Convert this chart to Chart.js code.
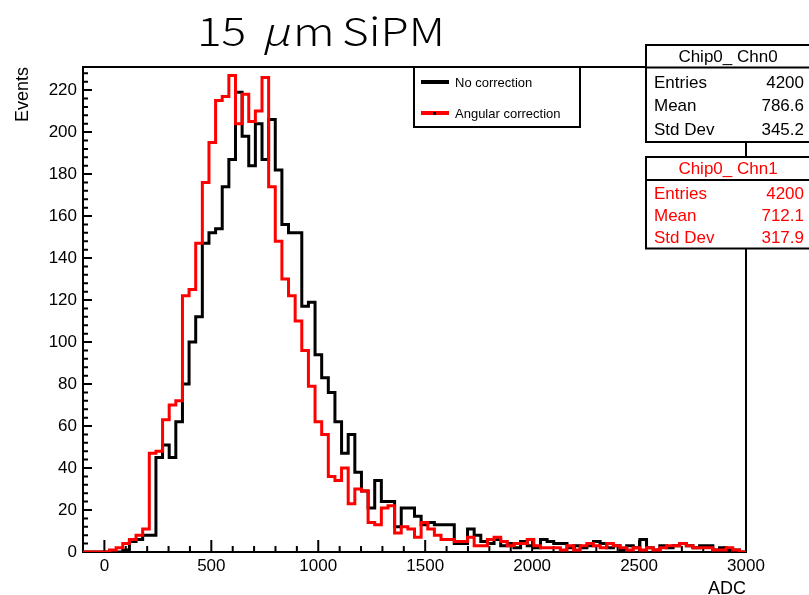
<!DOCTYPE html>
<html>
<head>
<meta charset="utf-8">
<title>15 μm SiPM</title>
<script src="https://cdn.jsdelivr.net/npm/chart.js@4.4.0/dist/chart.umd.min.js"></script>
<style>
  html, body { margin: 0; padding: 0; background: #ffffff; }
  #wrap { width: 809px; height: 595px; }
</style>
</head>
<body>
<div id="wrap"><canvas id="adcChart" width="809" height="595"></canvas></div>
<script>
// Histogram binning: 100 bins of 31 ADC from -100 to 3000
const X_MIN = -100;
const X_MAX = 3000;
const BIN_WIDTH = 31;
const Y_MAX = 231;

const xTickValues = [0, 500, 1000, 1500, 2000, 2500, 3000];
const yTickValues = [0, 20, 40, 60, 80, 100, 120, 140, 160, 180, 200, 220];

// Events per bin
const noCorrection = [
    0, 0, 0, 0, 0, 0, 1, 5, 6, 8,
    8, 45, 51, 45, 62, 80, 100, 112, 147, 152,
    154, 174, 187, 219, 198, 184, 204, 187, 206, 182,
    156, 152, 152, 117, 119, 94, 83, 76, 62, 47,
    56, 38, 29, 21, 34, 24, 24, 12, 21, 21,
    17, 13, 14, 13, 13, 13, 4, 4, 11, 8,
    5, 4, 6, 3, 4, 2, 5, 3, 2, 6,
    5, 4, 4, 2, 3, 2, 3, 5, 4, 2,
    3, 1, 3, 2, 6, 2, 1, 3, 2, 3,
    4, 3, 2, 3, 3, 1, 2, 1, 1, 0
];
const angularCorrection = [
    0, 0, 0, 0, 1, 2, 4, 6, 8, 11,
    47, 48, 63, 70, 72, 122, 125, 147, 176, 195,
    215, 217, 227, 204, 218, 205, 210, 226, 174, 148,
    130, 122, 110, 96, 79, 62, 56, 36, 34, 40,
    23, 30, 29, 14, 13, 21, 22, 9, 12, 11,
    7, 14, 11, 8, 6, 6, 5, 5, 7, 3,
    3, 6, 7, 5, 3, 4, 4, 6, 3, 2,
    2, 2, 1, 3, 1, 3, 4, 3, 2, 4,
    3, 2, 1, 2, 1, 2, 1, 2, 3, 3,
    4, 3, 2, 2, 2, 1, 1, 2, 1, 0
];

const legendLabels = ['No correction', 'Angular correction'];
const statNames = ['Entries', 'Mean', 'Std Dev'];
const statsChn0 = ['4200', '786.6', '345.2'];
const statsChn1 = ['4200', '712.1', '317.9'];

const FONT = '"Liberation Sans", Arial, Helvetica, sans-serif';

// bin left edges + closing point -> step line
function toSteps(counts) {
    const pts = counts.map((c, i) => ({ x: X_MIN + i * BIN_WIDTH, y: c }));
    pts.push({ x: X_MIN + counts.length * BIN_WIDTH, y: counts[counts.length - 1] });
    return pts;
}

const rootDecor = {
    id: 'rootDecor',
    beforeDatasetsDraw(chart) {
        const { ctx, chartArea: a, scales } = chart;
        ctx.save();
        ctx.strokeStyle = '#000';
        ctx.lineWidth = 2;
        ctx.strokeRect(a.left, a.top, a.right - a.left, a.bottom - a.top);

        // inward ticks, ROOT style
        ctx.beginPath();
        for (let v = X_MIN; v <= X_MAX; v += 100) {
            const px = scales.x.getPixelForValue(v);
            const len = v % 500 === 0 ? 12 : 6;
            ctx.moveTo(px, a.bottom);
            ctx.lineTo(px, a.bottom - len);
        }
        for (let v = 0; v <= Y_MAX; v += 4) {
            const py = scales.y.getPixelForValue(v);
            const len = v % 20 === 0 ? 9 : 5;
            ctx.moveTo(a.left, py);
            ctx.lineTo(a.left + len, py);
        }
        ctx.stroke();
        ctx.restore();
    },
    afterDraw(chart) {
        const { ctx, chartArea: a } = chart;
        ctx.save();

        // title, pieces placed like the ROOT latex output (wide gothic face)
        ctx.fillStyle = '#000';
        ctx.textBaseline = 'alphabetic';
        ctx.textAlign = 'left';
        const tFont = '300 39px "Noto Sans CJK JP", "Noto Sans", sans-serif';
        const tItal = 'italic 300 39px "Noto Sans", "Liberation Sans", sans-serif';
        const parts = [['15', tFont, 197], ['\u03bc', tItal, 265], ['m', tFont, 293], ['SiPM', tFont, 342]];
        parts.forEach(p => {
            ctx.save();
            ctx.font = p[1];
            ctx.translate(p[2], 46);
            ctx.scale(1.18, 1);
            ctx.fillText(p[0], 0, 0);
            ctx.restore();
        });

        // axis titles
        ctx.font = '18px ' + FONT;
        ctx.textAlign = 'right';
        ctx.fillText('ADC', a.right, 594);
        ctx.save();
        ctx.translate(28, a.top);
        ctx.rotate(-Math.PI / 2);
        ctx.textAlign = 'right';
        ctx.fillText('Events', 0, 0);
        ctx.restore();

        // legend box
        ctx.fillStyle = '#fff';
        ctx.fillRect(414, 67, 166, 60);
        ctx.strokeStyle = '#000';
        ctx.lineWidth = 2;
        ctx.strokeRect(414, 67, 166, 60);
        const legColors = ['#000000', '#ff0000'];
        const legY = [82, 113];
        legendLabels.forEach((lab, i) => {
            ctx.strokeStyle = legColors[i];
            ctx.lineWidth = 4;
            ctx.beginPath();
            ctx.moveTo(421, legY[i]);
            ctx.lineTo(449, legY[i]);
            ctx.stroke();
            ctx.fillStyle = '#000';
            ctx.font = '13px ' + FONT;
            ctx.textAlign = 'left';
            ctx.textBaseline = 'middle';
            ctx.fillText(lab, 455, legY[i] + 1);
        });
        ctx.fillStyle = '#000';
        ctx.fillRect(433, legY[1] - 1, 3, 3);

        // stats boxes
        const boxes = [
            { title: 'Chip0_ Chn0', vals: statsChn0, color: '#000000', top: 45, sep: 67.5, bottom: 142, rows: [83, 106, 130], head: 57 },
            { title: 'Chip0_ Chn1', vals: statsChn1, color: '#ff0000', top: 157, sep: 180, bottom: 248.5, rows: [194, 216, 238], head: 169 }
        ];
        boxes.forEach(b => {
            ctx.fillStyle = '#fff';
            ctx.fillRect(646, b.top, 170, b.bottom - b.top);
            ctx.strokeStyle = '#000';
            ctx.lineWidth = 2;
            ctx.strokeRect(646, b.top, 170, b.bottom - b.top);
            ctx.beginPath();
            ctx.moveTo(646, b.sep);
            ctx.lineTo(816, b.sep);
            ctx.stroke();
            ctx.fillStyle = b.color;
            ctx.font = '17px ' + FONT;
            ctx.textBaseline = 'middle';
            ctx.textAlign = 'center';
            ctx.fillText(b.title, 728, b.head);
            statNames.forEach((n, i) => {
                ctx.textAlign = 'left';
                ctx.fillText(n, 654, b.rows[i]);
                ctx.textAlign = 'right';
                ctx.fillText(b.vals[i], 804, b.rows[i]);
            });
        });
        ctx.restore();
    }
};

const ctx = document.getElementById('adcChart');
new Chart(ctx, {
    type: 'line',
    data: {
        datasets: [
            {
                label: legendLabels[0],
                data: toSteps(noCorrection),
                borderColor: '#000000',
                borderWidth: 3,
                stepped: 'before',
                pointRadius: 0,
                fill: false,
                order: 1
            },
            {
                label: legendLabels[1],
                data: toSteps(angularCorrection),
                borderColor: '#ff0000',
                borderWidth: 3,
                stepped: 'before',
                pointRadius: 0,
                fill: false,
                order: 0
            }
        ]
    },
    options: {
        responsive: false,
        animation: false,
        devicePixelRatio: 1,
        layout: { padding: { left: 0, top: 67, right: 63, bottom: 0 } },
        plugins: {
            legend: { display: false },
            tooltip: { enabled: false },
            title: { display: false }
        },
        scales: {
            x: {
                type: 'linear',
                min: X_MIN,
                max: X_MAX,
                grid: { display: false, drawTicks: false },
                border: { display: false },
                ticks: {
                    color: '#000', font: { family: FONT, size: 17 }, padding: 4, maxRotation: 0, autoSkip: false,
                    callback: v => String(v)
                },
                afterBuildTicks: s => { s.ticks = xTickValues.map(v => ({ value: v })); },
                afterFit: s => { s.height = 43; }
            },
            y: {
                type: 'linear',
                min: 0,
                max: Y_MAX,
                grid: { display: false, drawTicks: false },
                border: { display: false },
                ticks: {
                    color: '#000', font: { family: FONT, size: 17 }, padding: 6, autoSkip: false,
                    callback: v => String(v)
                },
                afterBuildTicks: s => { s.ticks = yTickValues.map(v => ({ value: v })); },
                afterFit: s => { s.width = 83; }
            }
        }
    },
    plugins: [rootDecor]
});
</script>
</body>
</html>
